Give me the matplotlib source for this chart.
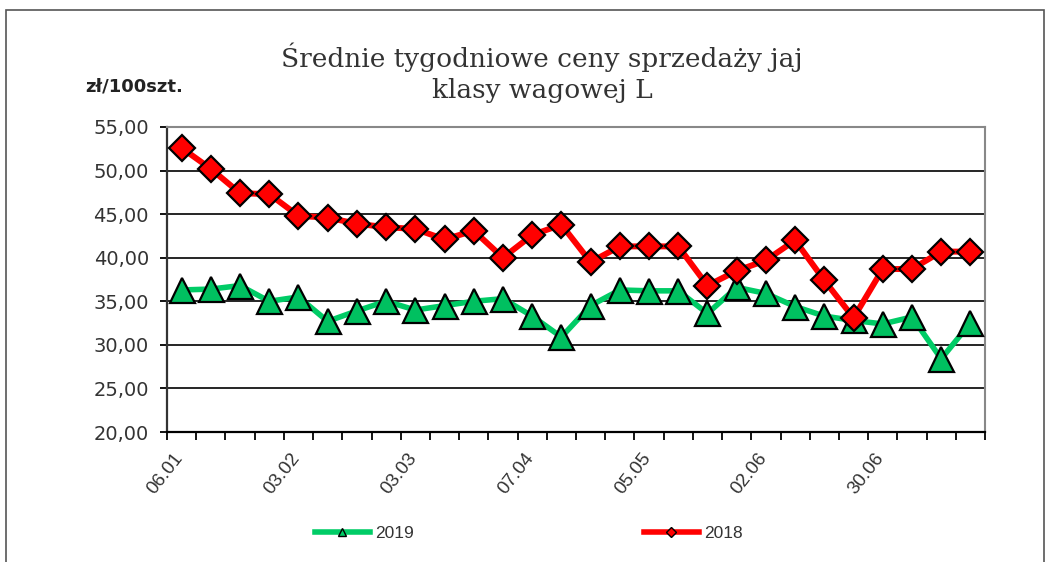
import matplotlib.pyplot as plt
from matplotlib.lines import Line2D
from matplotlib.transforms import ScaledTranslation

weeks = list(range(28))
tick_labels = ["06.01", "03.02", "03.03", "07.04", "05.05", "02.06", "30.06"]

prices_2018 = [52.6, 50.2, 47.4, 47.3, 44.8, 44.6, 43.9, 43.5, 43.3, 42.1,
               43.1, 40.0, 42.6, 43.8, 39.5, 41.3, 41.3, 41.3, 36.8, 38.5,
               39.7, 42.0, 37.4, 33.1, 38.7, 38.7, 40.7, 40.7]
prices_2019 = [36.3, 36.4, 36.8, 35.0, 35.5, 32.7, 33.9, 35.0, 34.0, 34.5,
               35.0, 35.3, 33.3, 30.9, 34.5, 36.3, 36.2, 36.2, 33.6, 36.6,
               35.9, 34.4, 33.3, 32.8, 32.4, 33.2, 28.4, 32.5]

green = "#00CC66"
red = "#FF0000"

fig = plt.figure(figsize=(10.52, 5.62), dpi=100)
ax = fig.add_axes([167 / 1052, 1 - 432 / 562, 818 / 1052, 305 / 562])

# outer frame of the chart
fig.patches.append(plt.Rectangle((6 / 1052, -0.05), 1038 / 1052, 1 - 10 / 562 + 0.05,
                                 transform=fig.transFigure, fill=False,
                                 edgecolor="#555555", linewidth=1.2))

ax.plot(weeks, prices_2019, color=green, linewidth=4, marker="^", markersize=18,
        markerfacecolor="#00C060", markeredgecolor="black", markeredgewidth=1.6, zorder=3)
ax.plot(weeks, prices_2018, color=red, linewidth=4.3, marker="D", markersize=13.5,
        markerfacecolor=red, markeredgecolor="black", markeredgewidth=1.6, zorder=4)

ax.set_xlim(-0.5, 27.5)
ax.set_ylim(20, 55)
ax.set_yticks(range(20, 56, 5))
ax.set_yticklabels([f"{v},00" for v in range(20, 56, 5)], fontsize=14,
                   family="DejaVu Sans", color="#333333")
ax.yaxis.grid(True, color="black", linewidth=1.2)
ax.set_axisbelow(True)

ax.set_xticks([i - 0.5 for i in range(0, 28, 4)])
ax.set_xticklabels(tick_labels, rotation=52, ha="right", va="center",
                   rotation_mode="anchor", fontsize=13.5,
                   family="Liberation Sans", color="#333333")
ax.set_xticks([i - 0.5 for i in range(29)], minor=True)
ax.tick_params(axis="x", which="both", length=6, width=1.3, direction="out", pad=10.5)
ax.tick_params(axis="y", length=5, width=1.3, pad=8)
shift = ScaledTranslation(13 / 100, 0, fig.dpi_scale_trans)
for lbl in ax.get_xticklabels():
    lbl.set_transform(lbl.get_transform() + shift)

for side in ["top", "right"]:
    ax.spines[side].set_color("#888888")
    ax.spines[side].set_linewidth(1.5)
ax.spines["left"].set_color("#333333")
ax.spines["left"].set_linewidth(1.6)
ax.spines["bottom"].set_linewidth(1.6)

fig.text(542 / 1052, 1 - 73 / 562, "Średnie tygodniowe ceny sprzedaży jaj\nklasy wagowej L",
         ha="center", va="center", fontsize=19, family="DejaVu Serif",
         linespacing=1.3, color="#333333")
fig.text(85 / 1052, 1 - 86 / 562, "zł/100szt.", ha="left", va="center",
         fontsize=13, fontweight="bold", family="DejaVu Sans", color="#222222")

h19 = Line2D([], [], color=green, linewidth=4, marker="^", markersize=6,
             markerfacecolor=green, markeredgecolor="black", markeredgewidth=1)
h18 = Line2D([], [], color=red, linewidth=4, marker="D", markersize=5,
             markerfacecolor=red, markeredgecolor="black", markeredgewidth=1)
leg_style = dict(frameon=False, handlelength=3.15, handletextpad=0.3, borderpad=0,
                 borderaxespad=0, loc="center left",
                 prop={"family": "Liberation Sans", "size": 12.5})
leg1 = fig.legend([h19], ["2019"], bbox_to_anchor=(315 / 1052, 1 - 533 / 562), **leg_style)
leg2 = fig.legend([h18], ["2018"], bbox_to_anchor=(644 / 1052, 1 - 533 / 562), **leg_style)
for leg in (leg1, leg2):
    for t in leg.get_texts():
        t.set_color("#333333")

fig.savefig("out.png", dpi=100)
